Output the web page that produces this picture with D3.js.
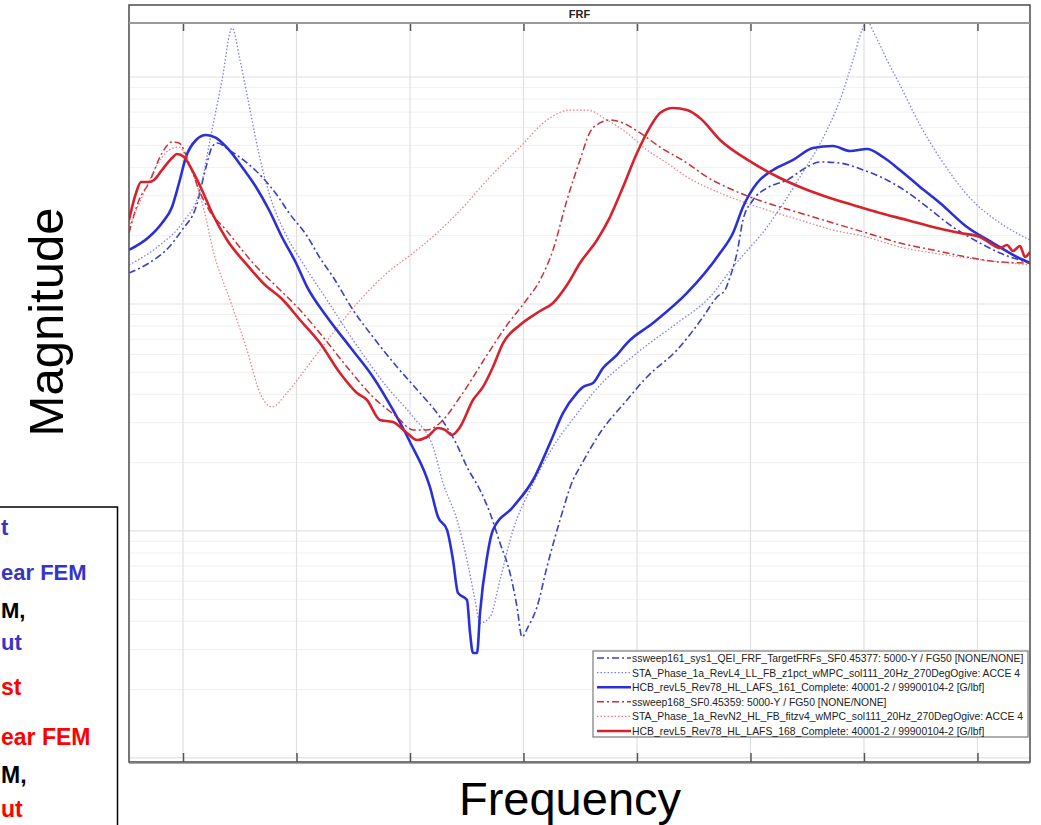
<!DOCTYPE html>
<html>
<head>
<meta charset="utf-8">
<script src="https://cdn.jsdelivr.net/npm/d3@7"></script>
<style>
  body { margin: 0; background: #fff; }
  svg { display: block; font-family: "Liberation Sans", Arial, sans-serif; }
</style>
</head>
<body>
<svg id="chart" width="1041" height="825"></svg>
<script>
// frequency (Hz) / magnitude (dB)
const xTicks = [10, 20, 30, 40, 50, 60, 70, 80];
const decades = [0, -20, -40, -60];

const testBlue = [[5.24,-17.27],[7.00,-16.39],[8.77,-14.98],[9.91,-13.48],[11.15,-11.45],[12.03,-7.93],[12.56,-6.17],[13.00,-5.82],[14.05,-6.43],[15.55,-7.49],[16.96,-8.81],[18.28,-10.40],[19.34,-11.98],[20.93,-14.01],[22.07,-15.95],[23.22,-17.62],[24.98,-20.53],[26.74,-22.91],[28.86,-25.55],[30.88,-27.84],[32.64,-29.96],[34.14,-32.42],[35.02,-34.36],[36.17,-36.39],[37.05,-38.42],[37.93,-41.06],[38.81,-43.70],[39.43,-46.70],[39.87,-49.34],[40.40,-48.46],[41.19,-46.70],[42.07,-43.17],[43.22,-39.03],[44.36,-35.51],[44.98,-34.36],[46.74,-31.37],[49.12,-28.46],[50.88,-26.43],[53.53,-24.05],[55.82,-21.15],[57.05,-19.38],[57.76,-18.77],[58.20,-17.62],[58.81,-15.51],[59.34,-12.60],[60.22,-10.84],[61.46,-9.78],[63.22,-9.08],[64.98,-7.93],[66.13,-7.49],[67.89,-7.58],[69.92,-8.19],[72.03,-9.08],[73.79,-10.13],[75.55,-11.45],[77.84,-13.22],[80.22,-14.63],[81.99,-15.51],[84.63,-16.39]];

const linearBlue = [[5.24,-16.56],[7.97,-14.80],[10.00,-12.78],[11.50,-9.96],[12.38,-5.55],[13.44,-0.26],[14.32,4.32],[15.02,1.50],[15.82,-2.47],[16.43,-5.55],[16.96,-7.93],[17.58,-10.22],[19.08,-13.92],[20.49,-16.30],[22.69,-19.65],[24.98,-23.17],[27.97,-27.31],[30.27,-29.96],[32.03,-32.60],[32.91,-35.77],[34.14,-39.03],[35.02,-42.56],[35.73,-46.08],[36.17,-48.11],[37.05,-47.58],[37.93,-44.32],[39.08,-39.91],[40.57,-36.39],[42.60,-32.60],[44.98,-29.34],[46.13,-27.84],[50.00,-24.32],[53.53,-21.68],[56.43,-19.38],[58.46,-16.74],[61.46,-13.22],[64.36,-8.81],[66.74,-4.67],[67.89,-2.03],[69.03,1.50],[69.83,4.14],[70.27,4.90],[70.97,3.70],[72.03,1.50],[73.17,-0.70],[74.94,-4.23],[76.70,-7.14],[79.34,-10.66],[81.99,-12.86],[84.63,-14.36]];

const nonlinBlue = [[5.24,-15.24],[7.00,-14.10],[8.15,-12.86],[9.03,-11.45],[9.65,-9.34],[10.26,-7.05],[11.15,-5.55],[12.03,-5.11],[12.91,-5.37],[14.05,-6.43],[15.20,-7.93],[16.43,-9.69],[17.58,-11.72],[18.72,-14.10],[19.96,-16.39],[20.93,-18.50],[22.69,-21.15],[24.72,-23.79],[26.74,-26.43],[28.50,-29.34],[30.00,-32.16],[31.76,-36.13],[32.47,-38.77],[33.26,-39.91],[33.79,-42.56],[34.23,-45.46],[35.02,-46.08],[35.29,-48.99],[35.55,-50.75],[35.91,-50.75],[36.17,-47.23],[36.79,-42.29],[37.31,-39.91],[39.08,-37.89],[40.84,-35.51],[42.34,-32.25],[43.48,-29.61],[44.72,-27.84],[45.24,-27.31],[46.13,-26.96],[47.01,-25.64],[48.24,-24.49],[49.12,-23.44],[51.41,-21.68],[54.41,-19.03],[57.32,-15.51],[58.46,-13.75],[59.34,-11.45],[60.58,-9.34],[61.99,-8.19],[63.75,-7.31],[65.51,-6.26],[67.27,-6.08],[68.77,-6.52],[70.27,-6.34],[71.68,-7.05],[73.17,-8.19],[74.94,-9.69],[76.70,-11.10],[79.08,-13.22],[81.37,-14.63],[83.48,-15.86],[84.63,-16.39]];

const testRed = [[5.24,-13.75],[6.12,-10.84],[7.00,-9.34],[8.15,-6.70],[9.03,-5.73],[9.65,-5.82],[10.53,-7.58],[11.41,-9.96],[12.29,-11.72],[13.79,-13.48],[15.20,-15.24],[16.17,-16.39],[18.28,-18.50],[20.31,-20.53],[22.34,-22.91],[24.45,-25.55],[26.74,-28.20],[28.86,-29.96],[30.27,-31.10],[31.50,-31.10],[32.64,-30.49],[34.41,-28.20],[36.79,-24.49],[38.55,-21.85],[40.13,-19.82],[41.46,-17.89],[42.60,-15.24],[43.83,-10.84],[44.98,-7.31],[45.86,-4.85],[46.74,-4.05],[47.62,-3.79],[48.77,-4.05],[50.27,-4.93],[52.03,-6.17],[54.41,-7.58],[56.17,-8.81],[58.46,-9.96],[61.46,-11.10],[64.36,-11.98],[67.27,-12.86],[70.27,-13.75],[73.17,-14.63],[76.08,-15.24],[79.08,-15.86],[81.99,-16.30],[84.63,-16.39]];

const linearRed = [[5.24,-13.22],[6.39,-10.57],[7.62,-7.93],[8.77,-6.43],[9.65,-6.17],[10.26,-7.05],[11.15,-9.34],[11.85,-11.72],[12.64,-15.24],[14.14,-19.65],[15.64,-24.05],[16.78,-27.84],[17.84,-29.08],[19.16,-27.84],[20.93,-25.55],[23.22,-22.56],[25.60,-19.65],[27.97,-17.27],[30.27,-15.51],[32.38,-13.75],[35.02,-11.10],[36.79,-9.08],[39.69,-6.17],[42.07,-3.79],[44.10,-2.91],[45.60,-2.91],[47.36,-3.79],[49.12,-4.93],[50.88,-6.43],[52.65,-7.58],[54.41,-8.81],[57.32,-10.22],[61.46,-11.72],[64.36,-12.60],[67.27,-13.48],[70.27,-14.10],[73.17,-14.98],[76.08,-15.51],[79.08,-15.95],[81.99,-16.30],[84.63,-16.56]];

const nonlinRed = [[5.24,-12.60],[5.86,-10.22],[6.30,-9.25],[7.00,-9.25],[7.45,-9.08],[8.15,-8.19],[9.03,-7.14],[9.47,-6.78],[10.09,-7.05],[10.79,-8.19],[11.67,-9.96],[12.56,-11.98],[13.88,-14.36],[15.64,-16.56],[17.05,-18.15],[18.81,-19.65],[20.31,-21.41],[22.07,-23.44],[23.83,-26.08],[25.33,-27.84],[26.21,-28.46],[27.36,-30.22],[28.50,-30.40],[29.74,-31.37],[30.62,-31.98],[31.50,-31.72],[32.47,-30.93],[33.09,-31.10],[33.70,-31.54],[34.41,-30.84],[35.55,-28.46],[36.43,-27.31],[37.31,-25.55],[38.20,-23.44],[39.69,-21.85],[41.46,-20.62],[42.60,-19.91],[43.83,-18.33],[44.98,-16.39],[46.48,-14.36],[47.62,-12.34],[48.77,-9.69],[50.00,-6.70],[51.15,-4.41],[52.03,-3.17],[53.17,-2.73],[54.41,-2.91],[55.55,-3.61],[57.32,-5.55],[60.22,-7.58],[62.60,-8.90],[64.36,-9.69],[66.74,-10.57],[69.03,-11.28],[71.41,-11.98],[73.79,-12.60],[76.08,-13.22],[78.46,-13.75],[80.22,-14.10],[81.10,-14.63],[81.99,-15.07],[82.60,-14.80],[83.13,-15.33],[83.75,-14.89],[84.19,-15.86],[84.63,-15.42]];

const legendLabels = [
  'ssweep161_sys1_QEI_FRF_TargetFRFs_SF0.45377: 5000-Y / FG50 [NONE/NONE]',
  'STA_Phase_1a_RevL4_LL_FB_z1pct_wMPC_sol111_20Hz_270DegOgive: ACCE 4',
  'HCB_revL5_Rev78_HL_LAFS_161_Complete: 40001-2 / 99900104-2 [G/lbf]',
  'ssweep168_SF0.45359: 5000-Y / FG50 [NONE/NONE]',
  'STA_Phase_1a_RevN2_HL_FB_fitzv4_wMPC_sol111_20Hz_270DegOgive: ACCE 4',
  'HCB_revL5_Rev78_HL_LAFS_168_Complete: 40001-2 / 99900104-2 [G/lbf]'
];

// cropped side legend fragments
const sideText = ['t', 'ear FEM', 'M,', 'ut', 'st', 'ear FEM', 'M,', 'ut'];
const sideColor = ['#3535c8', '#3535c8', '#000', '#3535c8', '#ff0000', '#ff0000', '#000', '#ff0000'];

const blue = '#2a30d6', red = '#d6222c';
const series = [
  {data: testBlue, color: '#3a40c4', width: 1.6, dash: '7,3,2,3', opacity: 1},
  {data: linearBlue, color: '#5a5ee0', width: 1.3, dash: '1.5,2', opacity: 0.8},
  {data: nonlinBlue, color: blue, width: 2.6, dash: null, opacity: 1},
  {data: testRed, color: '#c83038', width: 1.5, dash: '7,3,2,3', opacity: 1},
  {data: linearRed, color: '#e05a64', width: 1.2, dash: '1.5,2', opacity: 0.8},
  {data: nonlinRed, color: red, width: 2.6, dash: null, opacity: 1}
];

const svg = d3.select('#chart');
const plotLeft = 129, plotRight = 1030, plotTop = 23, plotBottom = 762;

const x = d3.scaleLinear().domain([5.24, 84.63]).range([plotLeft, plotRight]);
const y = d3.scaleLinear().domain([-60.36, 4.76]).range([plotBottom, plotTop]);

// grid
const grid = svg.append('g');
const minor = [];
decades.forEach(d => {
  for (let m = 2; m <= 9; m++) minor.push(d + 20 * Math.log10(m));
});
grid.selectAll('.minor').data(minor.filter(v => v > y.domain()[0] && v < y.domain()[1]))
  .join('line')
  .attr('x1', plotLeft).attr('x2', plotRight)
  .attr('y1', d => y(d)).attr('y2', d => y(d))
  .attr('stroke', '#f0f0f0').attr('stroke-width', 1);
grid.selectAll('.major').data(decades.filter(v => v > y.domain()[0]))
  .join('line')
  .attr('x1', plotLeft).attr('x2', plotRight)
  .attr('y1', d => y(d)).attr('y2', d => y(d))
  .attr('stroke', '#e2e2e2').attr('stroke-width', 1.2);
grid.selectAll('.vgrid').data(xTicks)
  .join('line')
  .attr('x1', d => x(d)).attr('x2', d => x(d))
  .attr('y1', plotTop).attr('y2', plotBottom)
  .attr('stroke', '#e0e0e0').attr('stroke-width', 1.2);

// lines
svg.append('clipPath').attr('id', 'plotClip')
  .append('rect').attr('x', plotLeft).attr('y', plotTop)
  .attr('width', plotRight - plotLeft).attr('height', plotBottom - plotTop);

const line = d3.line()
  .x(d => x(d[0]))
  .y(d => y(d[1]))
  .curve(d3.curveMonotoneX);

svg.append('g').attr('clip-path', 'url(#plotClip)')
  .selectAll('path').data(series)
  .join('path')
  .attr('d', d => line(d.data))
  .attr('fill', 'none')
  .attr('stroke', d => d.color)
  .attr('stroke-width', d => d.width)
  .attr('stroke-dasharray', d => d.dash)
  .attr('stroke-opacity', d => d.opacity)
  .attr('stroke-linejoin', 'round');

// axes: ticks only, pointing inward
svg.append('g')
  .attr('transform', `translate(0,${plotBottom})`)
  .call(d3.axisBottom(x).tickValues(xTicks).tickSize(-9).tickFormat(''))
  .call(g => g.select('.domain').remove())
  .selectAll('line').attr('stroke', '#555').attr('stroke-width', 1.5);
svg.append('g')
  .attr('transform', `translate(0,${plotTop})`)
  .call(d3.axisTop(x).tickValues(xTicks).tickSize(-8).tickFormat(''))
  .call(g => g.select('.domain').remove())
  .selectAll('line').attr('stroke', '#555').attr('stroke-width', 1.5);

// frame + title strip
svg.append('rect').attr('x', plotLeft).attr('y', 5)
  .attr('width', plotRight - plotLeft).attr('height', plotBottom - 5)
  .attr('fill', 'none').attr('stroke', '#555').attr('stroke-width', 1.6);
svg.append('line').attr('x1', plotLeft).attr('x2', plotRight).attr('y1', plotTop).attr('y2', plotTop)
  .attr('stroke', '#999').attr('stroke-width', 2);
svg.append('line').attr('x1', plotLeft).attr('x2', plotRight).attr('y1', plotBottom + 1.5).attr('y2', plotBottom + 1.5)
  .attr('stroke', '#aaa').attr('stroke-width', 1);
svg.append('text').attr('x', (plotLeft + plotRight) / 2).attr('y', 18)
  .attr('text-anchor', 'middle').attr('font-size', '11px').attr('font-weight', 'bold')
  .attr('fill', '#222').text('FRF');

// legend inside plot
const lg = svg.append('g');
const lgBox = {x: 593, y: 651, w: plotRight - 2 - 593, h: 86};
lg.append('rect').attr('x', lgBox.x).attr('y', lgBox.y).attr('width', lgBox.w).attr('height', lgBox.h)
  .attr('fill', '#fff').attr('stroke', '#7a7a7a').attr('stroke-width', 1.2);
const rows = lg.append('g')
  .selectAll('g').data(series)
  .join('g')
  .attr('transform', (d, i) => `translate(0,${lgBox.y + 7 + i * 14.6})`);
rows.append('line')
  .attr('x1', 597).attr('x2', 631).attr('y1', 0).attr('y2', 0)
  .attr('stroke', d => d.color)
  .attr('stroke-width', d => d.width)
  .attr('stroke-dasharray', d => d.dash)
  .attr('stroke-opacity', d => d.opacity);
rows.append('text')
  .attr('x', 632).attr('y', 4)
  .attr('font-size', '10.4px').attr('fill', '#222')
  .text((d, i) => legendLabels[i]);

// axis titles
svg.append('text').attr('x', 570).attr('y', 815)
  .attr('text-anchor', 'middle').attr('font-size', '47px').attr('fill', '#000')
  .text('Frequency');
svg.append('text')
  .attr('transform', 'translate(63,322) rotate(-90)')
  .attr('text-anchor', 'middle').attr('font-size', '49px').attr('fill', '#000')
  .text('Magnitude');

// cropped annotation box on the left
svg.append('rect').attr('x', -20).attr('y', 507).attr('width', 137.5).attr('height', 340)
  .attr('fill', 'none').attr('stroke', '#000').attr('stroke-width', 1.5);
const sideY = [535, 580, 618, 650, 695, 745, 783, 817];
svg.append('g').selectAll('text').data(sideText)
  .join('text')
  .attr('x', 1).attr('y', (d, i) => sideY[i])
  .attr('font-size', (d, i) => i > 3 ? '23px' : '22px').attr('font-weight', 'bold')
  .attr('fill', (d, i) => sideColor[i])
  .text(d => d);
</script>
</body>
</html>
